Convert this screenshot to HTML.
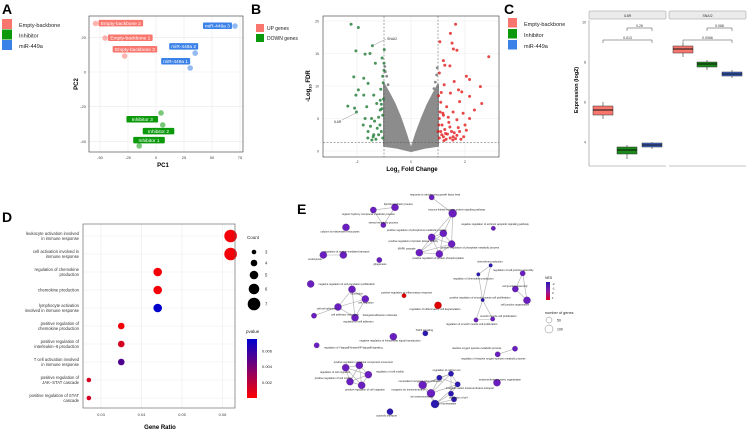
<!DOCTYPE html>
<html><head><meta charset="utf-8"><style>
html,body{margin:0;padding:0;background:#fff;}
svg{display:block;font-family:"Liberation Sans",sans-serif;}
</style></head><body>
<svg id="fig" width="747" height="431" viewBox="0 0 747 431" xmlns="http://www.w3.org/2000/svg"></svg>
<script>
// ---------- Panel A data ----------
const pcaSamples=["Empty-backbone 2","Empty-backbone 1","Empty-backbone 3","miR-449a 3","miR-449a 2","miR-449a 1","Inhibitor 3","Inhibitor 2","Inhibitor 1"];
const pcaGroup=[0,0,0,2,2,2,1,1,1];
const pcaPC1=[-54,-45.5,-28,70.5,35,30.5,4.5,6,-15];
const pcaPC2=[28,19.6,9.2,26.5,10.9,2.3,-23.6,-30.5,-42.6];
const pcaXTicks=[-50,-25,0,25,50,75];
const pcaYTicks=[20,0,-20,-40];
// ---------- Panel B data ----------
const upFC=[1.65,1.46,1.07,1.52,1.57,1.7,2.88,1.2,1.25,1.44,1.05,2.05,2.17,1.6,2.57,1.23,1.76,1.88,2.17,1.46,2.62,1.8,2.35,1.93,2.17,1.56,1.32,1.2,1.7,2.0,1.44,1.8,1.28,1.56,1.14,1.05,1.1,1.15,1.2,1.25,1.3,1.35,1.4,1.45,1.5,1.55,1.6,1.65,1.05,1.08,1.1,1.02,1.12,1.03,1.0,1.18,1.22,1.7,1.85,1.95,2.05,1.75,1.38];
const upFDR=[19.5,18.1,16.8,16.6,15.7,15.5,14.5,13.9,13.2,13.1,12,11.5,11,10.7,9.9,10.2,9.4,9.1,8.4,8.9,7.3,7.6,6.3,5.8,5.0,6.0,6.8,5.5,4.8,4.0,3.7,3.0,2.7,2.2,2.5,2,3,4,2.2,3.3,1.8,2.6,4.4,2,3,1.7,2.8,1.9,5,6,7.5,8.5,9,4,3,5.8,1.6,2.4,1.8,2.2,3.2,3.6,5.2];
const downFC=[-2.22,-1.95,-2.04,-1.43,-1.7,-1.52,-0.99,-1.07,-1.32,-2.12,-1.75,-1.0,-1.59,-1.95,-2.04,-1.75,-1.38,-2.34,-2.09,-2.02,-1.64,-1.27,-1.7,-1.46,-1.14,-1.77,-1.59,-1.38,-1.14,-1.05,-1.1,-1.15,-1.2,-1.25,-1.3,-1.35,-1.4,-1.05,-1.08,-1.02,-1.12,-1.03,-1.5,-1.45,-1.2,-1.6,-1.05,-1.0,-1.1];
const downFDR=[19.5,19,15.4,16.2,14.9,15,15.6,14.3,13.5,11.4,11.2,12.4,10.4,9.4,8.6,8.6,8.6,6.9,6.6,6.0,6.8,7.3,5.0,5.0,6.3,4.0,3.0,2.5,7.8,2,3,4,2.5,3.5,1.8,4.6,2.2,5.5,6.5,8,9.5,10.5,3.8,1.7,5.2,2,11.5,13.5,7.2];
const nsEnvFC=[-1,-0.8,-0.6,-0.4,-0.2,0,0.2,0.4,0.6,0.8,1,1,0.5,0,-0.5,-1];
const nsEnvFDR=[10.3,8.8,7.2,5.2,2.8,0.2,2.8,5.0,7.0,8.6,10.2,0.8,0.5,0,0.5,0.8];
const nsFC=[-0.95,-0.9,0.95,0.9,-0.85,0.85,-0.97,0.97];
const nsFDR=[12.2,11.5,11.7,10.6,10.2,9.6,13,12.8];
const volXTicks=[-2,0,2];
const volYTicks=[0,5,10,15,20];
// ---------- Panel C data ----------
const genes=["IL6R","SNAI2"];
const boxGroups=["Empty-backbone","Inhibitor","miR-449a"];
const boxMin=[[5.15,3.15,3.65],[8.25,7.6,7.2]];
const boxQ1=[[5.35,3.4,3.75],[8.45,7.75,7.3]];
const boxMed=[[5.6,3.6,3.85],[8.65,7.9,7.4]];
const boxQ3=[[5.8,3.75,3.95],[8.8,8.0,7.5]];
const boxMax=[[6.0,3.85,4.0],[8.95,8.1,7.6]];
const pvalLabels=[["0.26","0.013"],["0.068","0.0066"]];
const expTicks=[4,6,8,10];
// ---------- Panel D data ----------
const goTerms=[["leukocyte activation involved","in immune response"],["cell activation involved in","immune response"],["regulation of chemokine","production"],["chemokine production"],["lymphocyte activation","involved in immune response"],["positive regulation of","chemokine production"],["positive regulation of","interleukin−6 production"],["T cell activation involved","in immune response"],["positive regulation of","JAK−STAT cascade"],["positive regulation of STAT","cascade"]];
const geneRatio=[0.062,0.062,0.044,0.044,0.044,0.035,0.035,0.035,0.027,0.027];
const goCount=[7,7,5,5,5,4,4,4,3,3];
const goPval=[0.0003,0.0003,0.0003,0.0003,0.0072,0.0003,0.0012,0.005,0.0012,0.0012];
const ratioTicks=[0.03,0.04,0.05,0.06];
const countLegend=[3,4,5,6,7];
const pvalTicks=[0.002,0.004,0.006];
// ---------- Panel E data (network layout) ----------
const netNodes=[[455,22,3,-2],[345,52,4,-1.5],[280,60,3.5,-1.6],[310,105,3,-1.6],[198,112,4,-1.6],[518,70,4.5,-1.6],[640,115,2.5,-2],[455,142,4,-1.7],[490,130,4,-1.7],[515,162,4,-1.6],[418,188,4,-1.7],[478,192,4,-1.7],[130,195,4,-1.7],[190,195,4,-1.6],[298,210,3,-2],[92,282,4,-1.5],[216,298,4,-1.6],[256,327,4,-1.7],[174,351,4,-1.7],[225,383,4,-1.6],[102,377,3,-1.9],[372,317,2.5,1],[474,346,4,1],[340,440,4,-1.5],[436,430,3,-2.3],[110,466,3,-1.6],[595,253,2,-2.3],[632,226,2,-2.3],[608,330,2,-2.5],[588,390,2.5,-2.2],[638,387,2.5,-2.2],[728,250,3,-2],[706,297,3.5,-1.7],[741,331,4,-1.8],[705,476,3,-1.6],[653,493,3,-1.8],[197,533,4,-1.8],[238,526,4,-1.7],[265,554,4,-1.6],[210,575,4,-1.7],[245,586,4,-1.6],[428,585,4.5,-2.1],[453,610,4.5,-2.1],[465,642,4.5,-2.3],[478,563,3,-2.3],[513,551,3,-2.4],[533,583,3,-2.3],[513,611,3,-2.4],[522,628,3,-2.3],[651,578,4,-1.7],[330,665,3.5,-2.3]];
const netEdges=[[0,5],[1,2],[1,3],[2,3],[5,7],[5,8],[5,9],[7,8],[7,9],[7,10],[7,11],[8,9],[8,10],[8,11],[9,10],[9,11],[10,11],[12,13],[16,17],[16,18],[16,19],[17,18],[17,19],[18,19],[18,20],[26,27],[26,28],[27,28],[28,29],[28,30],[29,30],[31,32],[31,33],[32,33],[34,35],[36,37],[36,38],[36,39],[36,40],[37,38],[37,39],[38,39],[38,40],[39,40],[37,40],[41,42],[41,43],[41,44],[41,45],[42,43],[42,44],[42,46],[43,47],[43,48],[44,45],[44,46],[45,46],[45,47],[46,47],[47,48],[42,45],[43,46]];
const netLabels=[[465,14,"response to transforming growth factor beta"],[355,42,"lipid biosynthetic process"],[265,72,"organic hydroxy compound metabolic process"],[310,97,"steroid metabolic process"],[410,120,"positive regulation of phosphorus metabolic process"],[180,124,"calcium ion-dependent exocytosis"],[530,58,"enzyme linked receptor protein signaling pathway"],[645,102,"negative regulation of extrinsic apoptotic signaling pathway"],[400,153,"positive regulation of protein kinase activity"],[380,176,"MAPK cascade"],[570,172,"positive regulation of phosphate metabolic process"],[475,204,"positive regulation of protein phosphorylation"],[200,184,"regulation of vesicle-mediated transport"],[105,207,"endocytosis"],[300,222,"gliogenesis"],[200,282,"negative regulation of cell population proliferation"],[230,310,"locomotion"],[258,338,"cell migration"],[140,355,"cell-cell adhesion"],[195,374,"cell adhesion molecules"],[300,375,"biological adhesion molecules"],[235,395,"regulation of cell adhesion"],[380,308,"positive regulation of inflammatory response"],[465,357,"regulation of inflammatory cell degranulation"],[330,452,"negative regulation of intracellular signal transduction"],[433,420,"TGFb signaling"],[220,472,"regulation of I-kappaB kinase/NF-kappaB signaling"],[630,215,"chemokine production"],[700,240,"regulation of cell junction assembly"],[580,265,"regulation of chemokine production"],[600,322,"positive regulation of smooth muscle cell proliferation"],[655,378,"smooth muscle cell proliferation"],[575,402,"regulation of smooth muscle cell proliferation"],[705,288,"cell junction assembly"],[705,343,"cell junction organization"],[590,474,"reactive oxygen species metabolic process"],[640,505,"regulation of reactive oxygen species metabolic process"],[250,516,"positive regulation of cellular component movement"],[165,546,"regulation of cell migration"],[330,545,"regulation of cell motility"],[160,564,"positive regulation of cell motility"],[255,599,"positive regulation of cell migration"],[500,540,"regulation of calcium ion"],[420,573,"monovalent inorganic cation transport"],[385,598,"inorganic ion transmembrane"],[425,620,"ion transmembrane"],[570,594,"inorganic cation transmembrane transport"],[535,622,"regulation of pH"],[500,641,"ion homeostasis"],[660,568,"endomembrane system organization"],[320,677,"cytosolic transport"]];

const NS="http://www.w3.org/2000/svg";
const svg=document.getElementById('fig');
function mk(tag,attrs,parent,text){const e=document.createElementNS(NS,tag);for(const k in attrs)e.setAttribute(k,attrs[k]);if(text!==undefined)e.textContent=text;(parent||svg).appendChild(e);return e;}
const grpCol=["#F8766D","#0c9a0c","#3b82e8"];

[["A",2,14],["B",251,14],["C",504,14],["D",2,222],["E",297,214]].forEach(p=>{
 const t=mk('text',{x:p[1],y:p[2],'font-size':14,'font-weight':'bold',fill:'#000'},svg,p[0]);
 
 
});

// ========== Panel A ==========
const gA=mk('g',{});


const ax=v=>156+v*1.12, ay=v=>72-v*1.735;
["Empty-backbone","Inhibitor","miR-449a"].forEach((n,i)=>{
 const r=mk('rect',{x:2,y:19+i*10.5,width:10,height:10,fill:grpCol[i]},gA);
 
 
 const t=mk('text',{x:19,y:27+i*10.5,'font-size':5.5,fill:'#222'},gA,n);
 
 
});
pcaXTicks.forEach(v=>{mk('line',{x1:ax(v),x2:ax(v),y1:16,y2:152,stroke:'#ebebeb','stroke-width':0.6},gA);
 const t=mk('text',{x:ax(v),y:159,'font-size':4,'text-anchor':'middle',fill:'#444'},gA,v);
 
 });
pcaYTicks.forEach(v=>{mk('line',{x1:89,x2:243,y1:ay(v),y2:ay(v),stroke:'#ebebeb','stroke-width':0.6},gA);
 const t=mk('text',{x:86,y:ay(v)+1.5,'font-size':4,'text-anchor':'end',fill:'#444'},gA,v);
 
 });
mk('rect',{x:89,y:16,width:154,height:136,fill:'none',stroke:'#333','stroke-width':0.6},gA);
const labOff=[[3,-3.5],[3,-3.5],[-12,-10],[-3,-3.5],[3,-10],[0,-10],[-3,3],[-20,3],[-6,-9]];
pcaSamples.forEach((s,i)=>{
 const px=ax(pcaPC1[i]),py=ay(pcaPC2[i]),c=grpCol[pcaGroup[i]];
 const d=mk('circle',{cx:px,cy:py,r:2.8,fill:c,opacity:0.55},gA);
 
 
 const w=s.length*2.6+3;
 let lx=px+labOff[i][0],ly=py+labOff[i][1];
 if(pcaGroup[i]==2||i==6) lx=px+labOff[i][0]-w;
 if(i==4) lx=px-w+3;
 const r=mk('rect',{x:lx,y:ly,width:w,height:6.5,rx:1,fill:c},gA);
 
 
 const t=mk('text',{x:lx+w/2,y:ly+4.9,'font-size':4.8,'text-anchor':'middle',fill:'#fff'},gA,s);
 
 
});
let t0=mk('text',{x:163,y:167,'font-size':6,'font-weight':'bold','text-anchor':'middle'},gA,'PC1');


t0=mk('text',{x:0,y:0,'font-size':6,'font-weight':'bold','text-anchor':'middle',transform:'translate(78,84) rotate(-90)'},gA,'PC2');



// ========== Panel B ==========
const gB=mk('g',{});


const bx=v=>411+v*27, by=v=>151-v*6.5;
[["UP genes","#F8766D"],["DOWN  genes","#0c9a0c"]].forEach((l,i)=>{
 const r=mk('rect',{x:256,y:24+i*10,width:8,height:8,fill:l[1]},gB);
 
 
 const t=mk('text',{x:267,y:30+i*10,'font-size':5,fill:'#222'},gB,l[0]);
 
 
});
volXTicks.forEach(v=>{mk('line',{x1:bx(v),x2:bx(v),y1:16,y2:157,stroke:'#ebebeb','stroke-width':0.6},gB);
 const t=mk('text',{x:bx(v),y:163,'font-size':3.5,'text-anchor':'middle',fill:'#444'},gB,v);
 
 });
volYTicks.forEach(v=>{mk('line',{x1:323,x2:499,y1:by(v),y2:by(v),stroke:'#ebebeb','stroke-width':0.6},gB);
 const t=mk('text',{x:319,y:by(v)+1.3,'font-size':3.5,'text-anchor':'end',fill:'#444'},gB,v);
 
 });
let env=mk('polygon',{points:nsEnvFC.map((f,i)=>bx(f)+','+by(nsEnvFDR[i])).join(' '),fill:'#8c8c8c',stroke:'#8c8c8c','stroke-width':2,'stroke-linejoin':'round'},gB);


nsFC.forEach((f,i)=>{const c=mk('circle',{cx:bx(f),cy:by(nsFDR[i]),r:1.4,fill:'#8c8c8c'},gB);
 
 });
upFC.forEach((f,i)=>{const c=mk('circle',{cx:bx(f),cy:by(upFDR[i]),r:1.5,fill:'#e41a1c',opacity:0.8},gB);
 
 });
downFC.forEach((f,i)=>{const c=mk('circle',{cx:bx(f),cy:by(downFDR[i]),r:1.5,fill:'#1e7a35',opacity:0.8},gB);
 
 });
[[bx(-1),16,bx(-1),157],[bx(1),16,bx(1),157],[323,by(1.3),499,by(1.3)]].forEach(l=>{
 const e=mk('line',{x1:l[0],y1:l[1],x2:l[2],y2:l[3],stroke:'#555','stroke-width':0.5,'stroke-dasharray':'2,1.5'},gB);
 
 });
mk('line',{x1:372,y1:46,x2:386,y2:39,stroke:'#777','stroke-width':0.4},gB);
mk('line',{x1:342,y1:120,x2:356,y2:113,stroke:'#777','stroke-width':0.4},gB);
t0=mk('text',{x:387,y:40,'font-size':3.5,fill:'#333'},gB,'SNAI2');


t0=mk('text',{x:334,y:123,'font-size':3.5,fill:'#333'},gB,'IL6R');


mk('rect',{x:323,y:16,width:176,height:141,fill:'none',stroke:'#333','stroke-width':0.6},gB);
t0=mk('text',{x:412,y:171,'font-size':6,'font-weight':'bold','text-anchor':'middle'},gB);
t0.innerHTML='Log<tspan font-size="4" dy="1.5">2</tspan><tspan dy="-1.5"> Fold Change</tspan>';


t0=mk('text',{x:0,y:0,'font-size':6,'font-weight':'bold','text-anchor':'middle',transform:'translate(310,86) rotate(-90)'},gB);
t0.innerHTML='-Log<tspan font-size="4" dy="1.5">10</tspan><tspan dy="-1.5"> FDR</tspan>';



// ========== Panel C ==========
const gC=mk('g',{});


const cy=v=>142-(v-4)*20;
const boxCol=["#F8766D","#1a8a1a","#3a62c8"];
boxGroups.forEach((n,i)=>{
 const r=mk('rect',{x:508,y:18+i*11,width:9,height:9.5,fill:grpCol[i]},gC);
 
 
 const t=mk('text',{x:524,y:26+i*11,'font-size':5.5,fill:'#222'},gC,n);
 
 
});
const facetX=[589,669], facetW=77;
genes.forEach((g,gi)=>{
 const fx=facetX[gi];
 const s=mk('rect',{x:fx,y:11,width:facetW,height:8,fill:'#ebebeb',stroke:'#999','stroke-width':0.5,rx:1},gC);
 
 
 const st=mk('text',{x:fx+facetW/2,y:17,'font-size':3.5,'text-anchor':'middle',fill:'#333'},gC,g);
 
 
 mk('line',{x1:fx,x2:fx+facetW,y1:166,y2:166,stroke:'#888','stroke-width':0.6},gC);
 const cxs=[fx+14,fx+38,fx+63];
 boxGroups.forEach((b,bi)=>{
  const c=cxs[bi];
  mk('line',{x1:c,x2:c,y1:cy(boxMax[gi][bi]),y2:cy(boxMin[gi][bi]),stroke:'#333','stroke-width':0.6},gC);
  const r=mk('rect',{x:c-10,y:cy(boxQ3[gi][bi]),width:20,height:cy(boxQ1[gi][bi])-cy(boxQ3[gi][bi]),fill:boxCol[bi],stroke:'#333','stroke-width':0.5},gC);
  
  
  mk('line',{x1:c-10,x2:c+10,y1:cy(boxMed[gi][bi]),y2:cy(boxMed[gi][bi]),stroke:'#111','stroke-width':1},gC);
 });
 [[cxs[1],cxs[2],28,pvalLabels[gi][0]],[cxs[0],cxs[2],40,pvalLabels[gi][1]]].forEach(br=>{
  const p=mk('path',{d:`M${br[0]},${br[2]+3}V${br[2]}H${br[1]}V${br[2]+3}`,fill:'none',stroke:'#444','stroke-width':0.5},gC);
  
  
  const t=mk('text',{x:(br[0]+br[1])/2,y:br[2]-1,'font-size':3.5,'text-anchor':'middle',fill:'#333'},gC,br[3]);
  
  
 });
});
mk('line',{x1:589,x2:589,y1:20,y2:166,stroke:'#888','stroke-width':0.6},gC);
expTicks.forEach(v=>{const t=mk('text',{x:586,y:cy(v)+1.3,'font-size':3.5,'text-anchor':'end',fill:'#444'},gC,v);
 
 });
t0=mk('text',{x:0,y:0,'font-size':5.5,'font-weight':'bold','text-anchor':'middle',transform:'translate(578,90) rotate(-90)'},gC,'Expression (log2)');



// ========== Panel D ==========
const gD=mk('g',{});


const dx=v=>101+(v-0.03)*4050, dyRow=i=>236+i*18;
const rr=c=>2.3+(c-3)*1.0;
function pcol(p){const t=Math.min(1,p/0.0072);const r=Math.round(255*(1-t)),b=Math.round(205*t);return `rgb(${r},0,${b})`;}
ratioTicks.forEach(v=>{mk('line',{x1:dx(v),x2:dx(v),y1:224,y2:408,stroke:'#ebebeb','stroke-width':0.6},gD);
 const t=mk('text',{x:dx(v),y:416,'font-size':4,'text-anchor':'middle',fill:'#444'},gD,v.toFixed(2));
 
 });
goTerms.forEach((lines,i)=>{
 mk('line',{x1:83,x2:235,y1:dyRow(i),y2:dyRow(i),stroke:'#ebebeb','stroke-width':0.6},gD);
 lines.forEach((l,k)=>{const t=mk('text',{x:79,y:dyRow(i)+1.5+(k-(lines.length-1)/2)*5.2,'font-size':4.2,'text-anchor':'end',fill:'#333'},gD,l);
  
  });
 const c=mk('circle',{cx:dx(geneRatio[i]),cy:dyRow(i),r:rr(goCount[i]),fill:pcol(goPval[i])},gD);
 
 
});
mk('rect',{x:83,y:224,width:152,height:184,fill:'none',stroke:'#555','stroke-width':0.6},gD);
t0=mk('text',{x:160,y:429,'font-size':6,'font-weight':'bold','text-anchor':'middle'},gD,'Gene Ratio');


t0=mk('text',{x:247,y:239,'font-size':4.5,fill:'#222'},gD,'Count');


const legY=[252,263,275,289,304];
countLegend.forEach((c,i)=>{
 const e=mk('circle',{cx:254,cy:legY[i],r:rr(c),fill:'#000'},gD);
 
 
 const t=mk('text',{x:265,y:legY[i]+1.5,'font-size':4.2,fill:'#222'},gD,c);
 
 
});
t0=mk('text',{x:246,y:333,'font-size':4.5,fill:'#222'},gD,'pvalue');


const defs=mk('defs',{});
const lg=mk('linearGradient',{id:'pg',x1:0,y1:0,x2:0,y2:1},defs);
mk('stop',{offset:0,'stop-color':'rgb(0,0,205)'},lg);mk('stop',{offset:0.5,'stop-color':'rgb(128,0,110)'},lg);mk('stop',{offset:1,'stop-color':'rgb(255,0,0)'},lg);
t0=mk('rect',{x:247,y:339,width:10,height:59,fill:'url(#pg)'},gD);


const pbY=v=>398-(v-0)*(59/0.0075);
pvalTicks.forEach(v=>{const t=mk('text',{x:262,y:pbY(v)+1.5,'font-size':4,fill:'#222'},gD,v.toFixed(3));
 
 });

// ========== Panel E ==========
const gE=mk('g',{});


const ex=z=>280+z/3, ey=z=>190+z/3;
netEdges.forEach(e=>{const a=netNodes[e[0]],b=netNodes[e[1]];
 const l=mk('line',{x1:ex(a[0]),y1:ey(a[1]),x2:ex(b[0]),y2:ey(b[1]),stroke:'#aaa','stroke-width':0.6},gE);
 
 });
netNodes.forEach(n=>{const c=mk('circle',{cx:ex(n[0]),cy:ey(n[1]),r:n[2]*0.9,fill:n[3]>0?'#e00000':(n[3]<-2.2?'#2a18b0':'#6a1ec0'),stroke:'#444','stroke-width':0.2},gE);
 
 });
netLabels.forEach(l=>{const t=mk('text',{x:ex(l[0]),y:ey(l[1])+1,'font-size':2.6,'text-anchor':'middle',fill:'#222'},gE,l[2]);
 
 });
t0=mk('text',{x:545,y:279,'font-size':3.5,fill:'#222'},gE,'NES');


const lg2=mk('linearGradient',{id:'ng',x1:0,y1:0,x2:0,y2:1},defs);
mk('stop',{offset:0,'stop-color':'#2a18b0'},lg2);mk('stop',{offset:0.5,'stop-color':'#8a1aa8'},lg2);mk('stop',{offset:1,'stop-color':'#e00020'},lg2);
t0=mk('rect',{x:546,y:282,width:4,height:18,fill:'url(#ng)'},gE);


["-2","-1","0","1"].forEach((s,i)=>{const t=mk('text',{x:552,y:285+i*4.6,'font-size':3,fill:'#222'},gE,s);
 
 });
t0=mk('text',{x:545,y:314,'font-size':3.8,fill:'#222'},gE,'number of genes');


[[320,3,'50'],[329,4,'100']].forEach(d=>{
 const c=mk('circle',{cx:549,cy:d[0],r:d[1],fill:'none',stroke:'#666','stroke-width':0.4},gE);
 
 
 const t=mk('text',{x:557,y:d[0]+1.3,'font-size':3.5,fill:'#222'},gE,d[2]);
 
 
});
</script>
</body></html>
